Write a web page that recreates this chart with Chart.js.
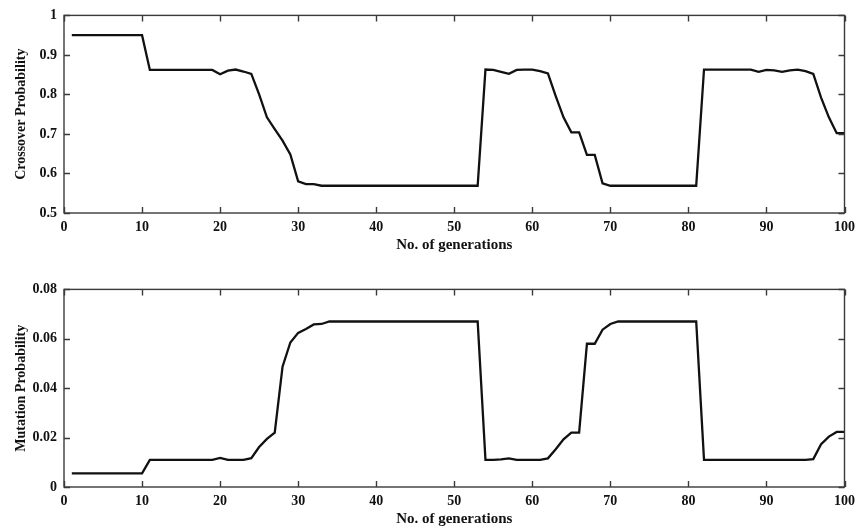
<!DOCTYPE html>
<html>
<head>
<meta charset="utf-8">
<title>Adaptive crossover and mutation probability</title>
<script src="https://cdn.jsdelivr.net/npm/chart.js@4.4.0/dist/chart.umd.min.js"></script>
<style>
  html, body { margin: 0; padding: 0; background: #fff; }
  .wrap { position: relative; width: 861px; height: 531px; overflow: hidden; }
  .panel { position: absolute; left: 0; width: 861px; height: 265px; }
  #top-panel { top: 0; }
  #bottom-panel { top: 274px; }
</style>
</head>
<body>
<div class="wrap">
  <div class="panel" id="top-panel"><canvas id="chart-crossover" width="861" height="265"></canvas></div>
  <div class="panel" id="bottom-panel"><canvas id="chart-mutation" width="861" height="265"></canvas></div>
</div>
<script>
(function () {
  // Generation index (x axis)
  const generations = [
    1, 2, 3, 4, 5, 6, 7, 8, 9, 10, 11, 12, 13, 14, 15, 16, 17, 18, 19, 20,
    21, 22, 23, 24, 25, 26, 27, 28, 29, 30, 31, 32, 33, 34, 35, 36, 37, 38, 39, 40,
    41, 42, 43, 44, 45, 46, 47, 48, 49, 50, 51, 52, 53, 54, 55, 56, 57, 58, 59, 60,
    61, 62, 63, 64, 65, 66, 67, 68, 69, 70, 71, 72, 73, 74, 75, 76, 77, 78, 79, 80,
    81, 82, 83, 84, 85, 86, 87, 88, 89, 90, 91, 92, 93, 94, 95, 96, 97, 98, 99, 100
  ];

  // Crossover probability per generation
  const crossoverProb = [
    0.95, 0.95, 0.95, 0.95, 0.95, 0.95, 0.95, 0.95, 0.95, 0.95,
    0.862, 0.862, 0.862, 0.862, 0.862, 0.862, 0.862, 0.862, 0.862, 0.851,
    0.860, 0.863, 0.858, 0.852, 0.800, 0.742, 0.712, 0.683, 0.648, 0.580,
    0.573, 0.573, 0.569, 0.569, 0.569, 0.569, 0.569, 0.569, 0.569, 0.569,
    0.569, 0.569, 0.569, 0.569, 0.569, 0.569, 0.569, 0.569, 0.569, 0.569,
    0.569, 0.569, 0.569, 0.863, 0.862, 0.857, 0.852, 0.862, 0.863, 0.863,
    0.859, 0.853, 0.796, 0.742, 0.704, 0.704, 0.647, 0.647, 0.575, 0.569,
    0.569, 0.569, 0.569, 0.569, 0.569, 0.569, 0.569, 0.569, 0.569, 0.569,
    0.569, 0.863, 0.863, 0.863, 0.863, 0.863, 0.863, 0.863, 0.857, 0.862,
    0.861, 0.857, 0.861, 0.863, 0.859, 0.852, 0.792, 0.742, 0.702, 0.702
  ];

  // Mutation probability per generation
  const mutationProb = [
    0.0055, 0.0055, 0.0055, 0.0055, 0.0055, 0.0055, 0.0055, 0.0055, 0.0055, 0.0055,
    0.011, 0.011, 0.011, 0.011, 0.011, 0.011, 0.011, 0.011, 0.011, 0.0118,
    0.011, 0.011, 0.011, 0.0117, 0.0162, 0.0195, 0.022, 0.0487, 0.0585, 0.0624,
    0.064, 0.0658, 0.066, 0.067, 0.067, 0.067, 0.067, 0.067, 0.067, 0.067,
    0.067, 0.067, 0.067, 0.067, 0.067, 0.067, 0.067, 0.067, 0.067, 0.067,
    0.067, 0.067, 0.067, 0.011, 0.011, 0.0112, 0.0116, 0.011, 0.011, 0.011,
    0.011, 0.0116, 0.0153, 0.0193, 0.022, 0.022, 0.058, 0.058, 0.0637, 0.066,
    0.067, 0.067, 0.067, 0.067, 0.067, 0.067, 0.067, 0.067, 0.067, 0.067,
    0.067, 0.011, 0.011, 0.011, 0.011, 0.011, 0.011, 0.011, 0.011, 0.011,
    0.011, 0.011, 0.011, 0.011, 0.011, 0.0113, 0.0173, 0.0204, 0.0223, 0.0223
  ];

  const xTicks = [0, 10, 20, 30, 40, 50, 60, 70, 80, 90, 100];
  const crossoverTicks = [0.5, 0.6, 0.7, 0.8, 0.9, 1];
  const mutationTicks = [0, 0.02, 0.04, 0.06, 0.08];

  const SERIF = '"Liberation Serif", "Times New Roman", serif';
  const TICK_LEN = 6;

  // Boxed frame with inward tick marks on all four sides
  const boxTicks = {
    id: 'boxTicks',
    afterDraw(chart) {
      const { ctx, chartArea: a, scales: { x, y } } = chart;
      ctx.save();
      ctx.strokeStyle = '#3a3a3a';
      ctx.lineWidth = 1.4;
      ctx.strokeRect(a.left, a.top, a.right - a.left, a.bottom - a.top);
      ctx.beginPath();
      x.ticks.forEach((t) => {
        const px = Math.round(x.getPixelForValue(t.value)) + 0.5;
        ctx.moveTo(px, a.bottom); ctx.lineTo(px, a.bottom - TICK_LEN);
        ctx.moveTo(px, a.top); ctx.lineTo(px, a.top + TICK_LEN);
      });
      y.ticks.forEach((t) => {
        const py = Math.round(y.getPixelForValue(t.value)) + 0.5;
        ctx.moveTo(a.left, py); ctx.lineTo(a.left + TICK_LEN, py);
        ctx.moveTo(a.right, py); ctx.lineTo(a.right - TICK_LEN, py);
      });
      ctx.stroke();
      ctx.restore();
    }
  };

  function lineChart(canvas, values, yTickValues, yTitle) {
    const points = generations.map((g, i) => ({ x: g, y: values[i] }));
    // eslint-disable-next-line no-undef
    return new Chart(canvas, {
      type: 'line',
      data: {
        datasets: [{
          data: points,
          borderColor: '#111',
          borderWidth: 2.3,
          pointRadius: 0,
          tension: 0,
          fill: false
        }]
      },
      options: {
        responsive: false,
        animation: false,
        layout: { padding: { left: 0, right: 13, top: 13, bottom: 0 } },
        plugins: { legend: { display: false }, tooltip: { enabled: false } },
        scales: {
          x: {
            type: 'linear',
            min: xTicks[0],
            max: xTicks[xTicks.length - 1],
            afterBuildTicks: (scale) => { scale.ticks = xTicks.map((v) => ({ value: v })); },
            afterFit: (scale) => { scale.height = 52; },
            grid: { display: false, drawTicks: false },
            border: { display: false },
            ticks: { color: '#111', padding: 6, maxRotation: 0, font: { family: SERIF, size: 14, weight: 'bold' } },
            title: {
              display: true,
              text: 'No. of generations',
              color: '#111',
              padding: { top: 0, bottom: 11 },
              font: { family: SERIF, size: 15, weight: 'bold' }
            }
          },
          y: {
            min: yTickValues[0],
            max: yTickValues[yTickValues.length - 1],
            afterBuildTicks: (scale) => { scale.ticks = yTickValues.map((v) => ({ value: v })); },
            afterFit: (scale) => { scale.width = 64; },
            grid: { display: false, drawTicks: false },
            border: { display: false },
            ticks: {
              color: '#111',
              padding: 7,
              font: { family: SERIF, size: 14, weight: 'bold' },
              callback: (v) => String(v)
            },
            title: {
              display: true,
              text: yTitle,
              color: '#111',
              padding: { top: 13, bottom: 0 },
              font: { family: SERIF, size: 14, weight: 'bold' }
            }
          }
        }
      },
      plugins: [boxTicks]
    });
  }

  lineChart(document.getElementById('chart-crossover'), crossoverProb, crossoverTicks, 'Crossover Probability');
  lineChart(document.getElementById('chart-mutation'), mutationProb, mutationTicks, 'Mutation Probability');
})();
</script>
</body>
</html>
